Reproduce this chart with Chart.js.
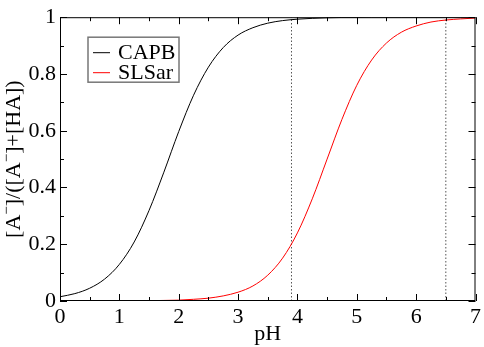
<!DOCTYPE html>
<html>
<head>
<meta charset="utf-8">
<script src="https://cdn.jsdelivr.net/npm/chart.js@4.4.0/dist/chart.umd.min.js"></script>
<style>
    html, body { margin: 0; padding: 0; background: #fff; }
    #wrap { width: 484px; height: 347px; }
</style>
</head>
<body>
<div id="wrap"><canvas id="phChart" width="484" height="347"></canvas></div>
<script>
// pH 值 (x 軸)
const phValues = [0, 0.25, 0.5, 0.75, 1, 1.25, 1.5, 1.75, 2, 2.25, 2.5, 2.75, 3, 3.25, 3.5,
    3.75, 4, 4.25, 4.5, 4.75, 5, 5.25, 5.5, 5.75, 6, 6.25, 6.5, 6.75, 7];

// 解離分率 (讀圖估計)
const capbValues = [0.015, 0.026, 0.045, 0.077, 0.129, 0.208, 0.319, 0.454, 0.597, 0.725, 0.824,
    0.893, 0.937, 0.963, 0.979, 0.988, 0.993, 0.996, 0.998, 0.999, 0.999, 1, 1, 1, 1, 1, 1, 1, 1];
const slsarValues = [0, 0, 0, 0, 0, 0.001, 0.001, 0.002, 0.003, 0.006, 0.010, 0.018, 0.031, 0.053,
    0.091, 0.151, 0.240, 0.360, 0.500, 0.640, 0.760, 0.849, 0.909, 0.947, 0.969, 0.983, 0.990, 0.994, 0.997];

// 虛線位置
const markerLines = [3.9, 6.5];

const seriesNames = ['CAPB', 'SLSar'];
const seriesColors = ['#000000', '#ff0000'];

const xTicks = [0, 1, 2, 3, 4, 5, 6, 7];
const yTicks = [0, 0.2, 0.4, 0.6, 0.8, 1];

// y 軸標題片段 (true = 上標)
const yTitleParts = [['[A', false], ['\u2212', true], [']/([A', false], ['\u2212', true], [']+[HA])', false]];

const FONT = "'Liberation Serif', 'DejaVu Serif', serif";

function toPoints(xs, ys) {
    return xs.map((x, i) => ({ x: x, y: ys[i] }));
}

const datasets = [
    {
        label: seriesNames[0],
        data: toPoints(phValues, capbValues),
        borderColor: seriesColors[0],
        borderWidth: 1,
        pointRadius: 0,
        cubicInterpolationMode: 'monotone'
    },
    {
        label: seriesNames[1],
        data: toPoints(phValues, slsarValues),
        borderColor: seriesColors[1],
        borderWidth: 1,
        pointRadius: 0,
        cubicInterpolationMode: 'monotone'
    }
];

markerLines.forEach(x => {
    datasets.push({
        label: 'marker',
        data: [{ x: x, y: 0 }, { x: x, y: 1 }],
        borderColor: '#555555',
        borderWidth: 1,
        borderDash: [1.5, 2],
        pointRadius: 0
    });
});

// 邊框 + 向內刻度
const framePlugin = {
    id: 'frame',
    afterDatasetsDraw(chart) {
        const ctx = chart.ctx;
        const a = chart.chartArea;
        const xs = chart.scales.x;
        const ys = chart.scales.y;
        ctx.save();
        ctx.strokeStyle = '#000';
        ctx.lineWidth = 1;
        ctx.strokeRect(a.left + 0.5, a.top + 0.5, a.right - a.left - 1, a.bottom - a.top - 1);
        ctx.beginPath();
        for (let v = 0; v <= 7.001; v += 0.5) {
            const px = Math.round(xs.getPixelForValue(v)) + 0.5;
            const len = Math.abs(v - Math.round(v)) < 0.01 ? 7 : 4;
            ctx.moveTo(px, a.bottom);
            ctx.lineTo(px, a.bottom - len);
            ctx.moveTo(px, a.top);
            ctx.lineTo(px, a.top + len);
        }
        for (let v = 0; v <= 1.0001; v += 0.1) {
            const py = Math.round(ys.getPixelForValue(v)) + 0.5;
            const len = Math.round(v * 10) % 2 === 0 ? 7 : 4;
            ctx.moveTo(a.left, py);
            ctx.lineTo(a.left + len, py);
            ctx.moveTo(a.right, py);
            ctx.lineTo(a.right - len, py);
        }
        ctx.stroke();
        ctx.restore();
    }
};

// y 軸標題 (含上標)
const yTitlePlugin = {
    id: 'yTitle',
    afterDraw(chart) {
        const ctx = chart.ctx;
        const a = chart.chartArea;
        const mainFont = '22px ' + FONT;
        const supFont = '15px ' + FONT;
        ctx.save();
        let total = 0;
        yTitleParts.forEach(p => {
            ctx.font = p[1] ? supFont : mainFont;
            total += ctx.measureText(p[0]).width;
        });
        ctx.translate(20, (a.top + a.bottom) / 2);
        ctx.rotate(-Math.PI / 2);
        ctx.fillStyle = '#000';
        ctx.textBaseline = 'alphabetic';
        ctx.textAlign = 'left';
        let x = -total / 2;
        yTitleParts.forEach(p => {
            ctx.font = p[1] ? supFont : mainFont;
            ctx.fillText(p[0], x, p[1] ? -9 : 0);
            x += ctx.measureText(p[0]).width;
        });
        ctx.restore();
    }
};

// 圖例 (圖內方框)
const legendBoxPlugin = {
    id: 'legendBox',
    afterDraw(chart) {
        const ctx = chart.ctx;
        const a = chart.chartArea;
        const bx = a.left + 28;
        const by = a.top + 20;
        ctx.save();
        ctx.fillStyle = '#fff';
        ctx.fillRect(bx, by, 91, 45);
        ctx.strokeStyle = '#777';
        ctx.lineWidth = 1.5;
        ctx.strokeRect(bx, by, 91, 45);
        ctx.font = '22px ' + FONT;
        ctx.textBaseline = 'middle';
        seriesNames.forEach((name, i) => {
            const ry = by + 15 + i * 20;
            ctx.strokeStyle = seriesColors[i];
            ctx.lineWidth = 1;
            ctx.beginPath();
            ctx.moveTo(bx + 5, ry + 0.5);
            ctx.lineTo(bx + 22, ry + 0.5);
            ctx.stroke();
            ctx.fillStyle = '#000';
            ctx.fillText(name, bx + 30, ry + 1);
        });
        ctx.restore();
    }
};

new Chart(document.getElementById('phChart'), {
    type: 'line',
    data: { datasets: datasets },
    options: {
        responsive: false,
        animation: false,
        layout: { padding: { top: 8, right: 6, left: 0, bottom: 0 } },
        plugins: {
            legend: { display: false },
            tooltip: { enabled: false }
        },
        scales: {
            x: {
                type: 'linear',
                min: 0,
                max: 7,
                afterBuildTicks: s => { s.ticks = xTicks.map(v => ({ value: v })); },
                afterFit: s => { s.height = 46; },
                grid: { display: false, drawTicks: false },
                border: { display: false },
                ticks: {
                    color: '#000',
                    padding: 3,
                    maxRotation: 0,
                    font: { family: FONT, size: 22 }
                },
                title: {
                    display: true,
                    text: 'pH',
                    color: '#000',
                    padding: { top: -4, bottom: 0 },
                    font: { family: FONT, size: 22 }
                }
            },
            y: {
                type: 'linear',
                min: 0,
                max: 1,
                afterBuildTicks: s => { s.ticks = yTicks.map(v => ({ value: v })); },
                afterFit: s => { s.width = 60; },
                grid: { display: false, drawTicks: false },
                border: { display: false },
                ticks: {
                    color: '#000',
                    padding: 4,
                    font: { family: FONT, size: 22 },
                    callback: v => String(Math.round(v * 10) / 10)
                }
            }
        }
    },
    plugins: [framePlugin, yTitlePlugin, legendBoxPlugin]
});
</script>
</body>
</html>
